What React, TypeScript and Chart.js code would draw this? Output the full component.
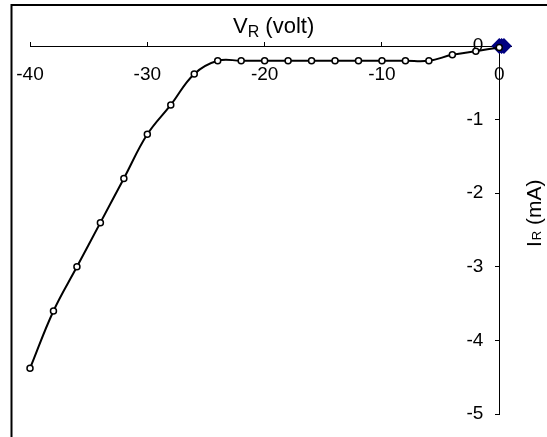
import React, { useEffect, useRef } from "react";
import { Chart, registerables } from "chart.js";

Chart.register(...registerables);

// Reverse-bias characteristic (V_R in volt, I_R in mA)
const reverseV = [-40, -38, -36, -34, -32, -30, -28, -26, -24, -22, -20, -18, -16, -14, -12, -10, -8, -6, -4, -2, 0];
const reverseI = [-4.38, -3.6, -3.0, -2.4, -1.8, -1.2, -0.8, -0.38, -0.2, -0.2, -0.2, -0.2, -0.2, -0.2, -0.2, -0.2, -0.2, -0.2, -0.12, -0.07, -0.02];

// Second series (blue markers at the origin)
const forwardV = [0, 0.2, 0.4];
const forwardI = [0, 0, 0];

const xTicks = [-40, -30, -20, -10, 0];
const yTicks = [-5, -4, -3, -2, -1, 0];

const FONT = "'Liberation Sans', Arial, Helvetica, sans-serif";

const framePlugin = {
  id: "frame",
  beforeDraw(chart: any) {
    const ctx = chart.ctx;
    ctx.save();
    ctx.fillStyle = "#fff";
    ctx.fillRect(0, 0, chart.width, chart.height);
    ctx.strokeStyle = "#000";
    ctx.lineWidth = 2;
    ctx.strokeRect(11.5, 5, 1000, 1000);
    ctx.restore();
  },
};

const titlePlugin = {
  id: "axisTitles",
  afterDraw(chart: any) {
    const ctx = chart.ctx;
    ctx.save();
    ctx.fillStyle = "#000";
    ctx.textBaseline = "alphabetic";
    ctx.textAlign = "left";
    // X title: V_R (volt)
    let x = 233;
    const base = 33;
    ctx.font = `22px ${FONT}`;
    ctx.fillText("V", x, base);
    x += ctx.measureText("V").width;
    ctx.font = `16px ${FONT}`;
    ctx.fillText("R", x, base + 4);
    x += ctx.measureText("R").width;
    ctx.font = `22px ${FONT}`;
    ctx.fillText(" (volt)", x, base);

    // Y title: I_R (mA), rotated
    ctx.translate(541, 247);
    ctx.rotate(-Math.PI / 2);
    let y = 0;
    ctx.font = `21px ${FONT}`;
    ctx.fillText("I", y, 0);
    y += ctx.measureText("I").width + 1;
    ctx.font = `13px ${FONT}`;
    ctx.fillText("R", y, 0);
    y += ctx.measureText("R").width;
    ctx.font = `21px ${FONT}`;
    ctx.fillText(" (mA)", y, 0);
    ctx.restore();
  },
};

const noPad = (s: any) => {
  s.paddingLeft = 0;
  s.paddingRight = 0;
  s.paddingTop = 0;
  s.paddingBottom = 0;
};

export default function App() {
  const ref = useRef<HTMLCanvasElement | null>(null);

  useEffect(() => {
    if (!ref.current) return;
    Chart.defaults.font.family = FONT;
    const chart = new Chart(ref.current, {
      type: "scatter",
      data: {
        datasets: [
          {
            label: "reverse",
            data: reverseV.map((v, i) => ({ x: v, y: reverseI[i] })),
            showLine: true,
            borderColor: "#000",
            borderWidth: 2,
            tension: 0.4,
            pointRadius: 3,
            pointBackgroundColor: "#fff",
            pointBorderColor: "#000",
            pointBorderWidth: 1.5,
            clip: false,
          },
          {
            label: "forward",
            data: forwardV.map((v, i) => ({ x: v, y: forwardI[i] })),
            showLine: true,
            borderColor: "#000080",
            borderWidth: 2,
            pointStyle: "rectRot",
            pointRadius: 6.5,
            pointBackgroundColor: "#000080",
            pointBorderColor: "#000080",
            clip: false,
          },
        ],
      },
      options: {
        animation: false,
        responsive: false,
        layout: { padding: { left: 30, top: 46, right: 36, bottom: 23 } },
        plugins: {
          legend: { display: false },
          tooltip: { enabled: false },
          title: { display: false },
        },
        scales: {
          x: {
            type: "linear",
            min: -40,
            max: 1,
            position: { y: 0 },
            afterBuildTicks: (s: any) => {
              s.ticks = xTicks.map((v) => ({ value: v }));
            },
            afterFit: noPad,
            ticks: {
              color: "#000",
              font: { size: 19, family: FONT },
              padding: 22,
              maxRotation: 0,
              autoSkip: false,
            },
            grid: {
              drawOnChartArea: false,
              drawTicks: true,
              tickLength: -5,
              color: "#000",
            },
            border: { color: "#000", width: 1 },
          },
          y: {
            type: "linear",
            min: -5,
            max: 0,
            position: { x: 0 },
            afterBuildTicks: (s: any) => {
              s.ticks = yTicks.map((v) => ({ value: v }));
            },
            afterFit: noPad,
            ticks: {
              color: "#000",
              font: { size: 19, family: FONT },
              padding: 10,
              autoSkip: false,
              callback: (v: any) => `${v}   `,
            },
            grid: {
              drawOnChartArea: false,
              drawTicks: true,
              tickLength: 4,
              color: "#000",
            },
            border: { color: "#000", width: 1 },
          },
        },
      } as any,
      plugins: [framePlugin, titlePlugin],
    });
    return () => chart.destroy();
  }, []);

  return (
    <div style={{ position: "absolute", left: 0, top: 0, width: 547, height: 437, background: "#fff" }}>
      <canvas ref={ref} width={547} height={437} />
    </div>
  );
}
